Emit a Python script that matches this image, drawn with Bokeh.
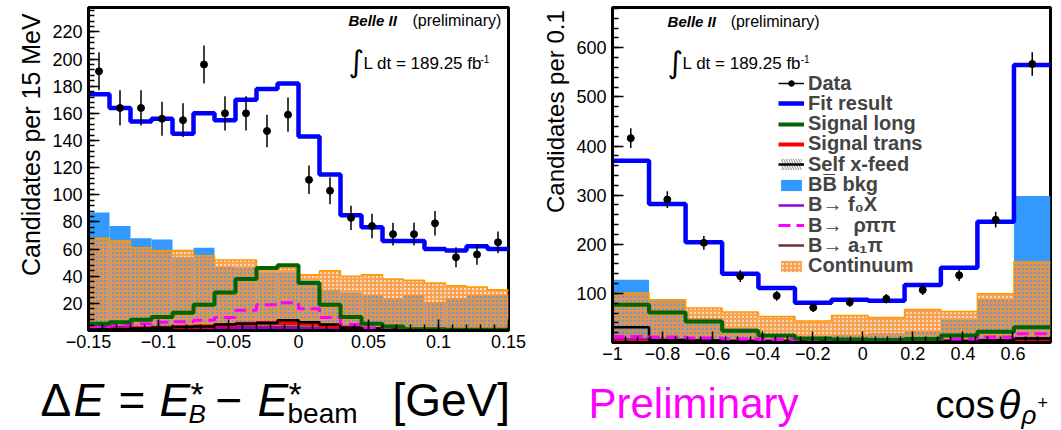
import numpy as np
from bokeh.plotting import figure
from bokeh.models import (Range1d, FixedTicker, Label, Legend, LegendItem, ColumnDataSource)
from bokeh.layouts import row, column
from bokeh.embed import file_html
from bokeh.resources import INLINE
from bokeh.core.properties import value

# ---------------- Left panel: Delta E ----------------
de_edges = [-0.150, -0.135, -0.120, -0.105, -0.090, -0.075, -0.060, -0.045, -0.030, -0.015,
            0.000, 0.015, 0.030, 0.045, 0.060, 0.075, 0.090, 0.105, 0.120, 0.135, 0.150]
de_data = [191, 164, 164, 156, 155, 196, 160, 160, 147, 159, 111, 103, 83, 77, 71, 71, 79, 54, 56, 65]
de_err = [14, 13, 13, 12.5, 12.5, 14, 12.6, 12.6, 12, 12.6, 10.5, 10, 9, 9, 8.4, 8.4, 9, 7.4, 7.5, 8]
de_fit = [174, 164, 154, 156, 145, 160, 155, 170, 178, 182, 143, 115, 85, 76, 66, 66, 60, 59, 62, 60]
de_sig_long = [5, 6, 8, 10, 13, 19, 28, 38, 46, 48, 35, 19, 10, 5, 3, 1, 1, 0.5, 0.5, 0.5]
de_sig_trans = [1, 1, 1.5, 2, 2.5, 3, 4, 5, 5.5, 5.5, 5, 3.5, 2, 1, 0.5, 0.3, 0.3, 0.3, 0.3, 0.3]
de_self = [1, 1, 1.5, 2, 2.5, 3, 4.5, 5, 5.5, 7.5, 6, 4.5, 2, 1.5, 1, 1, 1, 1, 1, 1]
de_bb = [87, 77, 68, 67, 54, 61, 47, 46, 43, 43, 37, 30, 28, 26, 24, 26, 21, 24, 26, 26]
de_f0x = [3, 2.5, 2, 2, 2, 2, 2, 2, 2, 2, 1.5, 1.5, 1, 1, 1, 1, 1, 1, 1, 1]
de_rhopipi = [3, 4, 5, 6, 6.5, 7.5, 9.5, 15, 19, 20.5, 16, 9.5, 4.5, 2, 1, 1, 0.5, 0.5, 0.5, 0.5]
de_a1pi = [1, 1, 1, 1.5, 1.5, 2, 2, 2.5, 2.5, 2.5, 2, 1.5, 1, 1, 1, 0.5, 0.5, 0.5, 0.5, 0.5]
de_cont = [68, 66, 61, 59, 59, 55, 52, 52, 45, 46, 41, 44, 40, 41, 38, 37, 35, 33, 32, 30]
de_xticks = [-0.15, -0.1, -0.05, 0, 0.05, 0.1, 0.15]
de_xtick_labels = ["\u22120.15", "\u22120.1", "\u22120.05", "0", "0.05", "0.1", "0.15"]
de_yticks = [20, 40, 60, 80, 100, 120, 140, 160, 180, 200, 220]

# ---------------- Right panel: cos theta ----------------
ct_edges = [-1.000, -0.854, -0.708, -0.562, -0.417, -0.271, -0.125, 0.021, 0.167, 0.312, 0.458, 0.604, 0.750]
ct_data = [416, 291, 203, 135, 95, 71, 82, 89, 107, 137, 250, 567]
ct_err = [20, 17, 14, 12, 10, 9, 9, 9.5, 10.5, 12, 16, 24]
ct_fit = [370, 282, 204, 140, 111, 81, 87, 85, 117, 152, 246, 565]
ct_sig_long = [77, 61, 43, 24, 14, 8, 6, 5, 7, 14, 22, 31]
ct_sig_trans = [2, 2, 1.5, 1, 1, 1, 1, 1, 1, 1.5, 2, 3]
ct_self = [31, 5, 4, 3, 3, 2, 2, 2, 3, 3, 4, 8]
ct_bb = [128, 86, 50, 29, 16, 12, 16, 19, 22, 47, 88, 298]
ct_f0x = [6, 5, 4, 3, 3, 2, 2, 2, 3, 3, 5, 8]
ct_rhopipi = [12, 11, 9, 7, 6, 5, 5, 5, 6, 7, 11, 18]
ct_a1pi = [3, 3, 2, 2, 2, 1, 1, 1, 2, 2, 3, 6]
ct_cont = [101, 87, 70, 62, 53, 44, 55, 51, 67, 63, 99, 164]
ct_xticks = [-1, -0.8, -0.6, -0.4, -0.2, 0, 0.2, 0.4, 0.6]
ct_xtick_labels = ["\u22121", "\u22120.8", "\u22120.6", "\u22120.4", "\u22120.2", "0", "0.2", "0.4", "0.6"]
ct_yticks = [100, 200, 300, 400, 500, 600]

legend_labels = ["Data", "Fit result", "Signal long", "Signal trans", "Self x-feed",
                 "BB\u0305 bkg", "B\u2192 f\u2080X", "B\u2192  \u03c1\u03c0\u03c0", "B\u2192 a\u2081\u03c0", "Continuum"]

C_FIT = "#0000ff"
C_LONG = "#006400"
C_TRANS = "#ff0000"
C_BB = "#3399ff"
C_F0 = "#9900cc"
C_RHO = "#ff00ff"
C_A1 = "#663333"
C_CONT = "#f7953b"
FONT = "Liberation Sans"
NB = "\u00a0"


def step_y(vals):
    return list(vals) + [vals[-1]]


def make_panel(edges, data, err, fit, sig_long, sig_trans, selff, bb, f0x, rho, a1, cont,
               xr, yr, fw, fh, borders, xticks, xlabels, xminor, yticks, yminor, ytitle, ytsize):
    bl, br, bt, bb_ = borders
    p = figure(frame_width=fw, frame_height=fh, x_range=Range1d(*xr), y_range=Range1d(*yr),
               output_backend="svg", toolbar_location=None,
               min_border_left=bl, min_border_right=br, min_border_top=bt, min_border_bottom=bb_)
    p.grid.visible = False
    p.outline_line_color = "black"
    p.outline_line_width = 3
    p.background_fill_color = "white"
    p.border_fill_color = "white"
    left = edges[:-1]
    right = edges[1:]
    centers = [(a + b) / 2 for a, b in zip(left, right)]
    src = ColumnDataSource(dict(left=left, right=right, bb=bb, cont=cont, selff=selff))
    r_bb = p.quad(left="left", right="right", bottom=0, top="bb", source=src,
                  fill_color=C_BB, line_color=None)
    r_cont = p.quad(left="left", right="right", bottom=0, top="cont", source=src,
                    fill_color=C_CONT, fill_alpha=0.35, line_color=None,
                    hatch_pattern="cross", hatch_color=C_CONT, hatch_scale=4, hatch_weight=2, hatch_alpha=0.8)
    p.step(edges, step_y(cont), mode="after", line_color="#ff9900", line_width=1.5)
    r_self_h = p.quad(left="left", right="right", bottom=0, top="selff", source=src,
                      fill_color=None, line_color=None, hatch_pattern="left_diagonal_line",
                      hatch_color="#888888", hatch_scale=5, hatch_weight=1)
    r_a1 = p.step(edges, step_y(a1), mode="after", line_color=C_A1, line_width=2.5)
    r_f0 = p.step(edges, step_y(f0x), mode="after", line_color=C_F0, line_width=2.5)
    r_trans = p.step(edges, step_y(sig_trans), mode="after", line_color=C_TRANS, line_width=4)
    r_self = p.step(edges, step_y(selff), mode="after", line_color="black", line_width=2.5)
    r_rho = p.step(edges, step_y(rho), mode="after", line_color=C_RHO, line_width=3, line_dash="12 6")
    r_long = p.step(edges, step_y(sig_long), mode="after", line_color=C_LONG, line_width=4)
    r_fit = p.step(edges, step_y(fit), mode="after", line_color=C_FIT, line_width=4.5)
    lo = [d - e for d, e in zip(data, err)]
    hi = [d + e for d, e in zip(data, err)]
    r_err = p.segment(x0=centers, y0=lo, x1=centers, y1=hi, line_color="black", line_width=1.5)
    r_pts = p.scatter(centers, data, size=7, fill_color="black", line_color="black", marker="circle")

    for ax, ticks, minor, labels in ((p.xaxis[0], xticks, xminor, xlabels), (p.yaxis[0], yticks, yminor, None)):
        ax.ticker = FixedTicker(ticks=ticks, minor_ticks=minor)
        ax.major_tick_in = 11
        ax.major_tick_out = 0
        ax.minor_tick_in = 6
        ax.minor_tick_out = 0
        ax.major_tick_line_width = 1.5
        ax.minor_tick_line_width = 1.5
        ax.axis_line_width = 3
        ax.major_label_text_font = FONT
        ax.major_label_text_font_size = "18px"
        ax.major_label_text_color = "black"
        if labels is not None:
            ax.major_label_overrides = {t: l for t, l in zip(ticks, labels)}
    p.xaxis.axis_label = None
    p.yaxis.axis_label = ytitle
    p.yaxis.axis_label_text_font = FONT
    p.yaxis.axis_label_text_font_size = ytsize
    p.yaxis.axis_label_text_font_style = "normal"
    p.yaxis.axis_label_text_color = "black"
    p.yaxis.axis_label_standoff = 4
    p.yaxis.major_label_standoff = 6
    p.xaxis.major_label_standoff = 4
    renderers = dict(data=[r_err, r_pts], fit=[r_fit], long=[r_long], trans=[r_trans],
                     selff=[r_self_h, r_self], bb=[r_bb], f0=[r_f0], rho=[r_rho], a1=[r_a1], cont=[r_cont])
    return p, renderers


def add_belle(p, x0, x1, y0, yint, xL, xsup, ysup, ybl):
    p.add_layout(Label(x=x0, y=y0, text="Belle II", text_font=FONT, text_font_size="15px",
                       text_font_style="bold italic", text_color="black"))
    p.add_layout(Label(x=x1, y=y0, text="(preliminary)", text_font=FONT, text_font_size="16px",
                       text_color="black"))
    p.add_layout(Label(x=x0, y=yint, text="\u222b", text_font="DejaVu Sans", text_font_size="30px",
                       text_color="black", text_baseline="middle"))
    p.add_layout(Label(x=xL, y=ybl, text="L dt = 189.25 fb", text_font=FONT, text_font_size="17px",
                       text_color="black"))
    p.add_layout(Label(x=xsup, y=ysup, text="-1", text_font=FONT, text_font_size="10px",
                       text_color="black"))


# Left figure (leading no-break spaces shift the centred axis title towards the top like ROOT)
p1, _ = make_panel(de_edges, de_data, de_err, de_fit, de_sig_long, de_sig_trans, de_self, de_bb,
                   de_f0x, de_rhopipi, de_a1pi, de_cont,
                   (-0.15, 0.15), (0, 238), 420, 323, (88, 22, 7, 38),
                   de_xticks, de_xtick_labels, [round(-0.15 + 0.01 * i, 2) for i in range(31)],
                   de_yticks, list(range(0, 240, 4)), NB * 7 + "Candidates per 15 MeV", "25px")
add_belle(p1, 0.0357, 0.0814, 222, 198.5, 0.0464, 0.1300, 197, 190)

# Right figure
p2, rr = make_panel(ct_edges, ct_data, ct_err, ct_fit, ct_sig_long, ct_sig_trans, ct_self, ct_bb,
                    ct_f0x, ct_rhopipi, ct_a1pi, ct_cont,
                    (-1.0, 0.75), (0, 682), 438, 335, (82, 11, 7, 26),
                    ct_xticks, ct_xtick_labels, [round(-1 + 0.05 * i, 2) for i in range(36)],
                    ct_yticks, list(range(0, 700, 20)), NB * 19 + "Candidates per 0.1", "24px")
add_belle(p2, -0.78, -0.528, 637, 571, -0.72, -0.248, 569, 549)

# Legend: one box per entry so that the row pitch matches the reference
keys = ["data", "fit", "long", "trans", "selff", "bb", "f0", "rho", "a1", "cont"]
for i, (lab, k) in enumerate(zip(legend_labels, keys)):
    center = 83 + 20.3 * i          # row centre, px from top of the page
    ybottom = 342 - (center + 11.5)  # px above the frame bottom
    lg = Legend(items=[LegendItem(label=lab, renderers=rr[k])], location=(166, ybottom),
                label_text_font=FONT, label_text_font_size="20px", label_text_font_style="bold",
                label_height=20, glyph_height=14, glyph_width=26, label_standoff=4, spacing=0,
                padding=0, margin=0, border_line_color=None, background_fill_alpha=0)
    p2.add_layout(lg)

# Bottom text strip (page pixel coordinates; anchors are text mid-lines)
p3 = figure(frame_width=1061, frame_height=62, x_range=Range1d(0, 1061), y_range=Range1d(430, 368),
            output_backend="svg", toolbar_location=None, x_axis_type=None, y_axis_type=None,
            min_border=0)
p3.grid.visible = False
p3.outline_line_color = None
p3.background_fill_color = "white"
p3.border_fill_color = "white"
sizes = [46, 46, 46, 46, 34, 26, 46, 46, 34, 28, 46, 42, 38, 40, 26, 18]
base = [416, 416, 416, 416, 405, 423, 416, 416, 405, 423, 416, 418, 418, 418, 424, 408]
pieces = dict(
    x=[40, 73, 118, 159, 190, 188, 215, 257, 288, 287, 392, 588, 935, 998, 1021, 1037],
    y=[b - 0.35 * s for b, s in zip(base, sizes)],
    text=["\u0394", "E", "=", "E", "*", "B", "\u2212", "E", "*", "beam", "[GeV]", "Preliminary",
          "cos", "\u03b8", "\u03c1", "+"],
    size=["%dpx" % s for s in sizes],
    style=["normal", "italic", "normal", "italic", "normal", "italic", "normal", "italic", "normal", "normal",
           "normal", "normal", "normal", "italic", "italic", "normal"],
    color=["black"] * 11 + ["#ff00ff"] + ["black"] * 4,
)
p3.text(x="x", y="y", text="text", source=ColumnDataSource(pieces), text_font=value(FONT),
        text_font_size="size", text_font_style="style", text_color="color", text_baseline="middle")

layout = column(row(column(p1), column(p2), spacing=0), p3, spacing=0)
open("out.html", "w").write(file_html(layout, INLINE))
